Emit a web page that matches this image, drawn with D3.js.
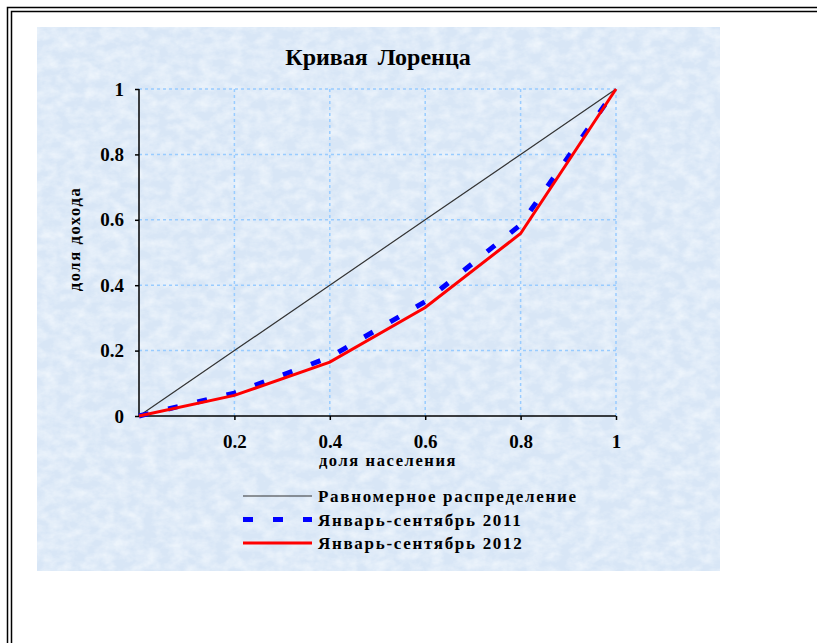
<!DOCTYPE html>
<html>
<head>
<meta charset="utf-8">
<script src="https://cdn.jsdelivr.net/npm/d3@7"></script>
<style>
  body { margin: 0; background: #fff; }
  svg { display: block; }
  text { font-family: "Liberation Serif", "Times New Roman", serif; font-weight: bold; fill: #000; }
</style>
</head>
<body>
<div id="chart"></div>
<script>
// data
const shares = [0, 0.2, 0.4, 0.6, 0.8, 1]
const equality = [0, 0.2, 0.4, 0.6, 0.8, 1]
const income2011 = [0, 0.07, 0.18, 0.35, 0.585, 1]
const income2012 = [0, 0.063, 0.165, 0.332, 0.558, 1]
const xTicks = [0.2, 0.4, 0.6, 0.8, 1]
const yTicks = [0, 0.2, 0.4, 0.6, 0.8, 1]
const seriesNames = ['Равномерное распределение', 'Январь-сентябрь 2011', 'Январь-сентябрь 2012']

const width = 817, height = 643
const svg = d3.select('#chart').append('svg')
    .attr('width', width)
    .attr('height', height)

// double frame of the page
svg.append('path')
    .attr('d', `M7.5,${height} V7.5 H${width}`)
    .attr('fill', 'none').attr('stroke', '#000').attr('stroke-width', 1.5)
svg.append('path')
    .attr('d', `M11.5,${height} V11.5 H${width}`)
    .attr('fill', 'none').attr('stroke', '#000').attr('stroke-width', 1.5)

// textured light blue chart area
const defs = svg.append('defs')
const f = defs.append('filter').attr('id', 'tex').attr('x', 0).attr('y', 0).attr('width', 1).attr('height', 1)
f.append('feTurbulence').attr('type', 'fractalNoise').attr('baseFrequency', '0.07 0.1').attr('numOctaves', 4).attr('seed', 7)
f.append('feColorMatrix').attr('type', 'matrix')
    .attr('values', '0 0 0 0 0.95  0 0 0 0 0.98  0 0 0 0 1  0 0 0 1.1 -0.35')
f.append('feComposite').attr('in2', 'SourceGraphic').attr('operator', 'in')

svg.append('rect')
    .attr('x', 37).attr('y', 27).attr('width', 683).attr('height', 544)
    .attr('fill', '#d8e6f6')
svg.append('rect')
    .attr('x', 37).attr('y', 27).attr('width', 683).attr('height', 544)
    .attr('fill', '#d8e6f6')
    .attr('filter', 'url(#tex)')

const x = d3.scaleLinear().domain([0, 1]).range([139, 616])
const y = d3.scaleLinear().domain([0, 1]).range([416, 89])

// title
svg.append('text')
    .attr('x', 378).attr('y', 65)
    .attr('text-anchor', 'middle')
    .attr('font-size', 24)
    .attr('style', 'word-spacing:4px')
    .text('Кривая  Лоренца')

// grid
const grid = svg.append('g')
    .attr('stroke', '#99ccff').attr('stroke-width', 1.5).attr('stroke-dasharray', '3,3')
grid.selectAll('.gx').data(xTicks).join('line')
    .attr('x1', d => x(d)).attr('x2', d => x(d))
    .attr('y1', y(0)).attr('y2', y(1))
grid.selectAll('.gy').data(yTicks.filter(d => d > 0)).join('line')
    .attr('x1', x(0)).attr('x2', x(1))
    .attr('y1', d => y(d)).attr('y2', d => y(d))

// axes
const xAxis = svg.append('g')
    .attr('transform', `translate(0,${y(0)})`)
    .call(d3.axisBottom(x).tickValues(xTicks).tickSize(4).tickFormat(d3.format('')))
const yAxis = svg.append('g')
    .attr('transform', `translate(${x(0)},0)`)
    .call(d3.axisLeft(y).tickValues(yTicks).tickSize(4).tickFormat(d3.format('')))
;[xAxis, yAxis].forEach(a => {
    a.select('.domain').attr('stroke', '#000').attr('stroke-width', 1.5)
    a.selectAll('.tick line').attr('stroke', '#000').attr('stroke-width', 1.5)
    a.selectAll('text')
        .attr('font-family', '"Liberation Serif", serif')
        .attr('font-weight', 'bold')
        .attr('font-size', 19)
        .attr('fill', '#000')
})
xAxis.select('.domain').attr('d', `M${x(0)},0H${x(1)}`)
yAxis.select('.domain').attr('d', `M0,${y(0)}V${y(1)}`)
xAxis.selectAll('text').attr('y', 19).attr('dy', '0.71em')
yAxis.selectAll('text').attr('dx', '-8')

// axis titles
svg.append('text')
    .attr('x', 388).attr('y', 466)
    .attr('text-anchor', 'middle')
    .attr('font-size', 16.5)
    .attr('letter-spacing', 1.6)
    .text('доля населения')
svg.append('text')
    .attr('transform', 'translate(80,239) rotate(-90)')
    .attr('text-anchor', 'middle')
    .attr('font-size', 16.5)
    .attr('letter-spacing', 1.6)
    .text('доля дохода')

// lines
const line = d3.line().x((d, i) => x(shares[i])).y(d => y(d))
const styles = [
    {data: equality, color: '#333', w: 1.2, dash: null},
    {data: income2011, color: '#0000ff', w: 5, dash: '10,20'},
    {data: income2012, color: '#ff0000', w: 3, dash: null}
]
styles.forEach(s => {
    svg.append('path')
        .attr('d', line(s.data))
        .attr('fill', 'none')
        .attr('stroke', s.color)
        .attr('stroke-width', s.w)
        .attr('stroke-dasharray', s.dash)
})

// legend
const legend = svg.append('g').attr('transform', 'translate(243,496)')
styles.forEach((s, i) => {
    const g = legend.append('g').attr('transform', `translate(0,${i * 23.5})`)
    g.append('line')
        .attr('x1', 0).attr('x2', 69)
        .attr('stroke', s.color)
        .attr('stroke-width', s.w)
        .attr('stroke-dasharray', s.dash)
    g.append('text')
        .attr('x', 75).attr('y', 6)
        .attr('font-size', 17)
        .attr('letter-spacing', 1.7)
        .text(seriesNames[i])
})
</script>
</body>
</html>
